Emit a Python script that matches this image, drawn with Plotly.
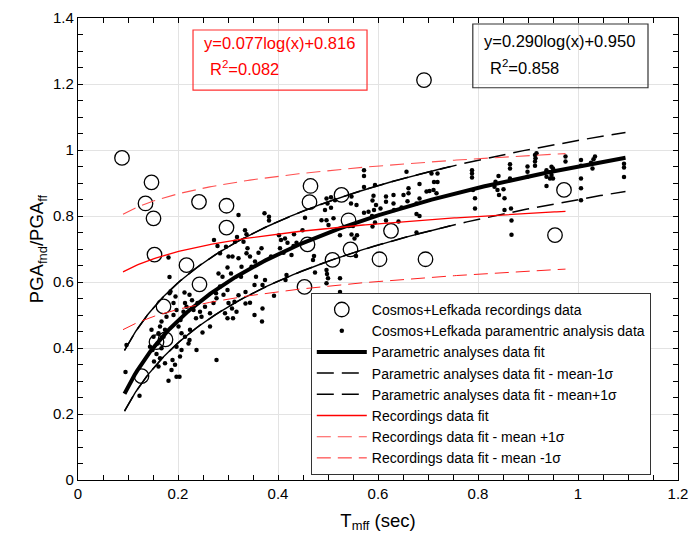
import numpy as np
import plotly.graph_objects as go

# ---------------- data ----------------
# Cosmos+Lefkada recordings (open circles)
rec_x = [0.088, 0.147, 0.135, 0.151, 0.153, 0.242, 0.297, 0.297, 0.217, 0.243,
         0.171, 0.157, 0.175, 0.127, 0.465, 0.463, 0.527, 0.541, 0.459, 0.509,
         0.545, 0.453, 0.626, 0.603, 0.695, 0.972, 0.954, 0.692]
rec_y = [0.976, 0.902, 0.838, 0.793, 0.683, 0.843, 0.831, 0.765, 0.651, 0.593,
         0.526, 0.418, 0.426, 0.315, 0.891, 0.842, 0.864, 0.787, 0.714, 0.667,
         0.699, 0.585, 0.755, 0.669, 0.669, 0.879, 0.742, 1.212]

# Cosmos+Lefkada parametric analysis data (small dots)
par_pts = [
    (0.095, 0.327), (0.097, 0.409), (0.123, 0.255),
    (0.181, 0.674), (0.183, 0.615), (0.185, 0.571), (0.183, 0.566), (0.195, 0.556),
    (0.191, 0.536), (0.177, 0.495), (0.167, 0.480), (0.164, 0.465), (0.174, 0.455),
    (0.161, 0.445), (0.151, 0.434), (0.159, 0.414), (0.167, 0.399), (0.149, 0.394),
    (0.157, 0.382), (0.164, 0.369), (0.152, 0.359), (0.174, 0.354), (0.161, 0.344),
    (0.189, 0.364), (0.194, 0.349), (0.187, 0.333), (0.181, 0.301), (0.197, 0.313),
    (0.203, 0.313), (0.204, 0.374), (0.197, 0.404), (0.207, 0.445), (0.201, 0.465),
    (0.205, 0.485), (0.211, 0.510), (0.214, 0.536), (0.197, 0.515), (0.191, 0.500),
    (0.144, 0.404), (0.147, 0.455), (0.171, 0.434),
    (0.213, 0.568), (0.223, 0.561), (0.228, 0.545), (0.217, 0.525), (0.231, 0.515),
    (0.239, 0.536), (0.244, 0.510), (0.254, 0.525), (0.236, 0.490), (0.247, 0.495),
    (0.264, 0.505), (0.271, 0.536), (0.277, 0.551), (0.276, 0.566), (0.284, 0.586),
    (0.291, 0.561), (0.299, 0.576), (0.301, 0.536), (0.294, 0.505), (0.281, 0.626),
    (0.289, 0.616), (0.299, 0.644), (0.272, 0.727), (0.279, 0.709), (0.296, 0.707),
    (0.284, 0.687), (0.301, 0.677), (0.224, 0.455), (0.221, 0.414), (0.237, 0.394),
    (0.249, 0.447), (0.264, 0.465), (0.277, 0.364), (0.223, 0.424), (0.214, 0.434),
    (0.207, 0.394),
    (0.321, 0.803), (0.373, 0.808), (0.382, 0.798), (0.382, 0.786), (0.454, 0.795),
    (0.497, 0.853), (0.506, 0.857), (0.499, 0.838), (0.506, 0.825), (0.494, 0.818),
    (0.487, 0.787), (0.497, 0.787), (0.511, 0.793), (0.501, 0.773), (0.514, 0.848),
    (0.547, 0.744), (0.524, 0.742), (0.449, 0.757), (0.432, 0.745), (0.402, 0.742),
    (0.406, 0.727), (0.414, 0.732), (0.419, 0.719), (0.437, 0.719), (0.431, 0.709),
    (0.427, 0.682), (0.411, 0.689), (0.404, 0.702), (0.386, 0.677), (0.367, 0.702),
    (0.361, 0.689), (0.354, 0.662), (0.344, 0.677), (0.337, 0.687), (0.339, 0.702),
    (0.334, 0.757), (0.337, 0.745), (0.331, 0.722), (0.318, 0.736), (0.314, 0.722),
    (0.309, 0.677), (0.321, 0.672), (0.327, 0.646), (0.306, 0.626), (0.326, 0.616),
    (0.347, 0.646), (0.356, 0.616), (0.374, 0.606), (0.369, 0.591), (0.353, 0.591),
    (0.335, 0.570), (0.321, 0.560), (0.313, 0.540), (0.335, 0.535), (0.344, 0.537),
    (0.308, 0.520), (0.317, 0.510), (0.299, 0.490), (0.310, 0.490), (0.353, 0.500),
    (0.369, 0.520), (0.368, 0.480), (0.392, 0.558), (0.417, 0.621), (0.415, 0.606),
    (0.470, 0.667), (0.472, 0.679), (0.474, 0.629), (0.497, 0.636), (0.498, 0.624),
    (0.500, 0.611), (0.497, 0.596), (0.524, 0.611), (0.524, 0.570), (0.553, 0.732),
    (0.572, 0.939), (0.572, 0.921), (0.572, 0.888), (0.594, 0.894), (0.657, 0.934),
    (0.707, 0.929), (0.719, 0.929), (0.712, 0.903), (0.719, 0.903), (0.711, 0.879),
    (0.717, 0.869), (0.683, 0.897), (0.697, 0.874), (0.703, 0.876), (0.661, 0.884),
    (0.661, 0.869), (0.651, 0.864), (0.659, 0.845), (0.683, 0.853), (0.677, 0.838),
    (0.631, 0.864), (0.616, 0.859), (0.616, 0.843), (0.631, 0.838), (0.632, 0.818),
    (0.647, 0.826), (0.605, 0.823), (0.596, 0.833), (0.591, 0.861), (0.589, 0.847),
    (0.592, 0.818), (0.588, 0.800), (0.581, 0.813), (0.572, 0.810), (0.557, 0.833),
    (0.547, 0.859), (0.546, 0.838), (0.594, 0.780), (0.589, 0.768), (0.616, 0.786),
    (0.641, 0.783), (0.677, 0.806), (0.683, 0.800), (0.550, 0.770), (0.558, 0.742),
    (0.556, 0.679), (0.677, 0.750), (0.788, 0.939), (0.788, 0.929), (0.788, 0.917),
    (0.790, 0.879), (0.794, 0.823), (0.794, 0.854),
    (0.841, 0.921), (0.835, 0.904), (0.833, 0.889), (0.839, 0.879), (0.842, 0.864),
    (0.851, 0.881), (0.853, 0.854), (0.853, 0.818), (0.866, 0.823), (0.867, 0.786),
    (0.867, 0.743), (0.864, 0.957), (0.864, 0.944), (0.864, 0.914), (0.899, 0.950),
    (0.899, 0.934), (0.899, 0.919), (0.914, 0.985), (0.915, 0.975), (0.914, 0.965),
    (0.914, 0.952), (0.917, 0.990), (0.937, 0.939), (0.937, 0.919), (0.937, 0.891),
    (0.947, 0.949), (0.950, 0.944), (0.947, 0.924), (0.950, 0.914), (0.944, 0.914),
    (0.975, 0.980), (0.975, 0.965), (1.006, 0.970), (1.006, 0.952), (1.006, 0.914),
    (1.006, 0.884), (1.006, 0.848), (1.029, 0.944), (1.031, 0.972), (1.034, 0.980),
    (1.026, 0.961), (1.092, 0.958), (1.092, 0.947), (1.092, 0.918),
]
par_x = [p[0] for p in par_pts]
par_y = [p[1] for p in par_pts]

# log fits: y = a*ln(x) + b
fit_par = (0.290, 0.950)        # parametric analyses fit
fit_par_minus = (0.270, 0.850)  # mean-1sigma
fit_par_plus = (0.268, 1.029)   # mean+1sigma
fit_rec = (0.077, 0.816)        # recordings fit
fit_rec_plus = (0.077, 0.991)
fit_rec_minus = (0.077, 0.641)
par_range = (0.093, 1.095)
par_solid_end = 0.745
rec_range = (0.09, 0.975)

x_ticks = [0, 0.2, 0.4, 0.6, 0.8, 1, 1.2]
y_ticks = [0, 0.2, 0.4, 0.6, 0.8, 1, 1.2, 1.4]

FONT = "Liberation Sans, Arial, sans-serif"


def curve(fit, x0, x1, n=200):
    xs = np.linspace(x0, x1, n)
    return xs, fit[0] * np.log(xs) + fit[1]


fig = go.Figure()

# thin solid portions of the +/- sigma curves (no legend)
for f in (fit_par_plus, fit_par_minus):
    xs, ys = curve(f, par_range[0], par_solid_end)
    fig.add_trace(go.Scatter(x=xs, y=ys, mode="lines", showlegend=False,
                             line=dict(color="black", width=1.4), hoverinfo="skip"))

traces = []
traces.append(go.Scatter(x=rec_x, y=rec_y, mode="markers",
                         name="Cosmos+Lefkada recordings data",
                         marker=dict(symbol="circle-open", size=14.5, color="black",
                                     line=dict(width=1.3, color="black"))))
traces.append(go.Scatter(x=par_x, y=par_y, mode="markers",
                         name="Cosmos+Lefkada paramentric analysis data",
                         marker=dict(symbol="circle", size=4.5, color="black")))
xs, ys = curve(fit_par, *par_range)
traces.append(go.Scatter(x=xs, y=ys, mode="lines", name="Parametric analyses data fit",
                         line=dict(color="black", width=4)))
xs, ys = curve(fit_par_minus, *par_range)
traces.append(go.Scatter(x=xs, y=ys, mode="lines",
                         name="Parametric analyses data fit - mean-1σ",
                         line=dict(color="black", width=1.5, dash="17px,8px")))
xs, ys = curve(fit_par_plus, *par_range)
traces.append(go.Scatter(x=xs, y=ys, mode="lines",
                         name="Parametric analyses data fit - mean+1σ",
                         line=dict(color="black", width=1.5, dash="17px,8px")))
xs, ys = curve(fit_rec, *rec_range)
traces.append(go.Scatter(x=xs, y=ys, mode="lines", name="Recordings data fit",
                         line=dict(color="#ff0000", width=1.3)))
xs, ys = curve(fit_rec_plus, *rec_range)
traces.append(go.Scatter(x=xs, y=ys, mode="lines", name="Recordings data fit - mean +1σ",
                         line=dict(color="#ff5050", width=1.1, dash="14px,7px")))
xs, ys = curve(fit_rec_minus, *rec_range)
traces.append(go.Scatter(x=xs, y=ys, mode="lines", name="Recordings data fit - mean -1σ",
                         line=dict(color="#ff2020", width=1.0, dash="14px,7px")))
for t in traces:
    fig.add_trace(t)

axis_common = dict(
    showline=True, linecolor="black", linewidth=1.2, mirror="allticks",
    ticks="inside", ticklen=5, tickcolor="black", tickwidth=1,
    showgrid=True, gridcolor="#e3e3e3", gridwidth=1, zeroline=False,
    automargin=False,
    tickfont=dict(family=FONT, size=15, color="black"),
    minor=dict(dtick=0.05, ticks="inside", ticklen=5, tickcolor="black", showgrid=False),
)

fig.update_layout(
    width=691, height=541,
    margin=dict(l=78, r=13, t=18, b=61, autoexpand=False),
    paper_bgcolor="white", plot_bgcolor="white",
    font=dict(family=FONT, color="black"),
    xaxis=dict(range=[0, 1.2], tickvals=x_ticks, ticktext=[str(v) for v in x_ticks],
               title=dict(text="T<sub>mff</sub> (sec)", font=dict(size=18.5), standoff=12),
               **axis_common),
    yaxis=dict(range=[0, 1.4], tickvals=y_ticks, ticktext=[str(v) for v in y_ticks],
               title=dict(text="PGA<sub>fnd</sub>/PGA<sub>ff</sub>", font=dict(size=18.5),
                          standoff=4),
               **axis_common),
    legend=dict(x=0.388, y=0.405, xanchor="left", yanchor="top",
                bgcolor="white", bordercolor="#333333", borderwidth=1,
                font=dict(family=FONT, size=14, color="black"),
                itemwidth=50, tracegroupgap=0),
    showlegend=True,
)

# equation boxes
fig.add_shape(type="rect", xref="paper", yref="paper", x0=0.1917, x1=0.4817,
              y0=0.844, y1=0.974, line=dict(color="#ff3030", width=1.2))
fig.add_shape(type="rect", xref="paper", yref="paper", x0=0.658, x1=0.95,
              y0=0.849, y1=0.987, line=dict(color="#333333", width=1.2))
fig.add_annotation(xref="paper", yref="paper", x=0.206, y=0.9466, xanchor="left",
                   yanchor="middle", showarrow=False, align="left",
                   text="y=0.077log(x)+0.816", font=dict(size=16.5, color="#ff0000", family=FONT))
fig.add_annotation(xref="paper", yref="paper", x=0.216, y=0.8925, xanchor="left",
                   yanchor="middle", showarrow=False, align="left",
                   text="R<sup>2</sup>=0.082", font=dict(size=16.5, color="#ff0000", family=FONT))
fig.add_annotation(xref="paper", yref="paper", x=0.673, y=0.951, xanchor="left",
                   yanchor="middle", showarrow=False, align="left",
                   text="y=0.290log(x)+0.950", font=dict(size=16.5, color="black", family=FONT))
fig.add_annotation(xref="paper", yref="paper", x=0.683, y=0.8946, xanchor="left",
                   yanchor="middle", showarrow=False, align="left",
                   text="R<sup>2</sup>=0.858", font=dict(size=16.5, color="black", family=FONT))

fig.write_html("out.html")
